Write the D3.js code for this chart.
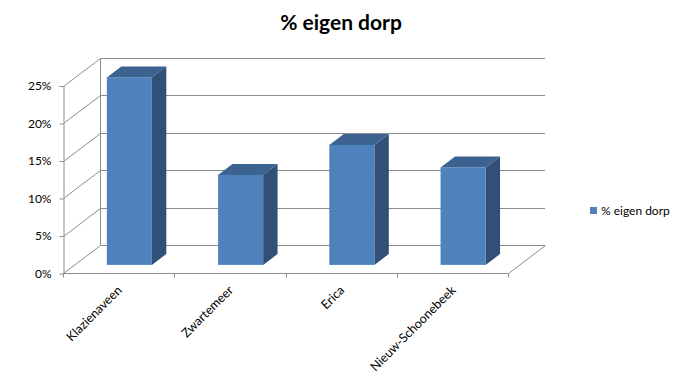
<!DOCTYPE html>
<html>
<head>
<meta charset="utf-8">
<script src="https://cdn.jsdelivr.net/npm/d3@7"></script>
<style>
  body { margin: 0; background: #fff; }
  text { font-family: Lato, "Liberation Sans", sans-serif; fill: #000; }
</style>
</head>
<body>
<svg id="chart" width="681" height="380"></svg>
<script>
var categories = ["Klazienaveen", "Zwartemeer", "Erica", "Nieuw-Schoonebeek"];
var values = [0.25, 0.12, 0.16, 0.13];
var yTicks = [0, 0.05, 0.10, 0.15, 0.20, 0.25];
var seriesName = "% eigen dorp";

var svg = d3.select("#chart");

// front plane of the plot, plus the 3d depth offset to the back wall
var x0 = 63, x1 = 508, DX = 37, DY = -28;

var x = d3.scaleBand()
    .domain(categories)
    .range([x0, x1])
    .padding(0);

var y = d3.scaleLinear()
    .domain([0, 0.25])
    .range([273, 85.5]);

var fmt = d3.format(".0%");
var gridColor = "#8c8c8c";

// title
svg.append("text")
    .attr("x", 341)
    .attr("y", 30)
    .attr("text-anchor", "middle")
    .style("font-size", "21px")
    .style("font-weight", "bold")
    .text(seriesName);

var grid = svg.append("g")
    .attr("stroke", gridColor)
    .attr("stroke-width", 1)
    .attr("fill", "none");

// diagonals from front axis to back wall + horizontal gridlines on back wall
yTicks.forEach(function (t) {
  var yy = Math.round(y(t)) + 0.5;
  grid.append("line")
      .attr("x1", x0 + 0.5).attr("y1", yy)
      .attr("x2", x0 + DX + 0.5).attr("y2", yy + DY);
  grid.append("line")
      .attr("x1", x0 + DX + 0.5).attr("y1", yy + DY)
      .attr("x2", x1 + DX).attr("y2", yy + DY);
});

// back wall left edge
grid.append("line")
    .attr("x1", x0 + DX + 0.5).attr("y1", Math.round(y(0)) + 0.5 + DY)
    .attr("x2", x0 + DX + 0.5).attr("y2", Math.round(y(0.25)) + 0.5 + DY);

// floor right diagonal
grid.append("line")
    .attr("x1", x1 + 0.5).attr("y1", Math.round(y(0)) + 0.5)
    .attr("x2", x1 + DX + 0.5).attr("y2", Math.round(y(0)) + 0.5 + DY);

// y axis (front)
var yAxis = svg.append("g")
    .attr("transform", "translate(" + (x0 + 0.5) + ",0.5)")
    .call(d3.axisLeft(y).tickValues(yTicks).tickFormat(fmt).tickSize(4).tickSizeOuter(0).tickPadding(8));
yAxis.select(".domain").attr("stroke", gridColor);
yAxis.selectAll(".tick line").attr("stroke", gridColor);
yAxis.selectAll(".tick text")
    .style("font-size", "12px")
    .style("font-family", "Lato, sans-serif")
    .attr("fill", "#000");

// x axis line with ticks at category boundaries
var xAxisY = Math.round(y(0)) + 0.5;
svg.append("line")
    .attr("x1", x0 + 0.5).attr("y1", xAxisY)
    .attr("x2", x1 + 0.5).attr("y2", xAxisY)
    .attr("stroke", gridColor);
var bounds = categories.map(function (c) { return x(c); }).concat([x1]);
svg.selectAll(".xtick")
  .data(bounds)
  .enter().append("line")
    .attr("class", "xtick")
    .attr("x1", function (d) { return Math.round(d) + 0.5; })
    .attr("x2", function (d) { return Math.round(d) + 0.5; })
    .attr("y1", xAxisY)
    .attr("y2", xAxisY + 4)
    .attr("stroke", gridColor);

// category labels, rotated
svg.selectAll(".xlabel")
  .data(categories)
  .enter().append("text")
    .attr("class", "xlabel")
    .attr("text-anchor", "end")
    .style("font-size", "12.5px")
    .attr("transform", function (d) {
      var cx = x(d) + x.bandwidth() / 2;
      return "translate(" + (cx + 4) + "," + 291 + ") rotate(-45)";
    })
    .text(function (d) { return d; });

// 3d bars
var fd = 0.29, bd = 0.39;           // bar front depth, bar depth (fractions of DX/DY)
var bw = x.bandwidth() * 0.405;
var fx = fd * DX, fy = fd * DY, sx = bd * DX, sy = bd * DY;

var bar = svg.selectAll(".bar")
  .data(categories.map(function (c, i) { return { cat: c, v: values[i] }; }))
  .enter().append("g")
    .attr("class", "bar");

bar.each(function (d) {
  var g = d3.select(this);
  var left = x(d.cat) + x.bandwidth() / 2 - bw / 2 + fx;
  var right = left + bw;
  var top = y(d.v) + fy;
  var bottom = y(0) + fy;
  // side
  g.append("path")
      .attr("d", "M" + right + "," + top + "L" + (right + sx) + "," + (top + sy) +
                 "L" + (right + sx) + "," + (bottom + sy) + "L" + right + "," + bottom + "Z")
      .attr("fill", "#324f78");
  // top
  g.append("path")
      .attr("d", "M" + left + "," + top + "L" + (left + sx) + "," + (top + sy) +
                 "L" + (right + sx) + "," + (top + sy) + "L" + right + "," + top + "Z")
      .attr("fill", "#3c6290");
  // front
  g.append("rect")
      .attr("x", left)
      .attr("y", top)
      .attr("width", bw)
      .attr("height", bottom - top)
      .attr("fill", "#4f81bd");
});

// legend
var legend = svg.append("g").attr("transform", "translate(590,207)");
legend.append("rect")
    .attr("width", 7).attr("height", 7)
    .attr("fill", "#4f81bd");
legend.append("text")
    .attr("x", 11)
    .attr("y", 7.5)
    .style("font-size", "12px")
    .text(seriesName);
</script>
</body>
</html>
